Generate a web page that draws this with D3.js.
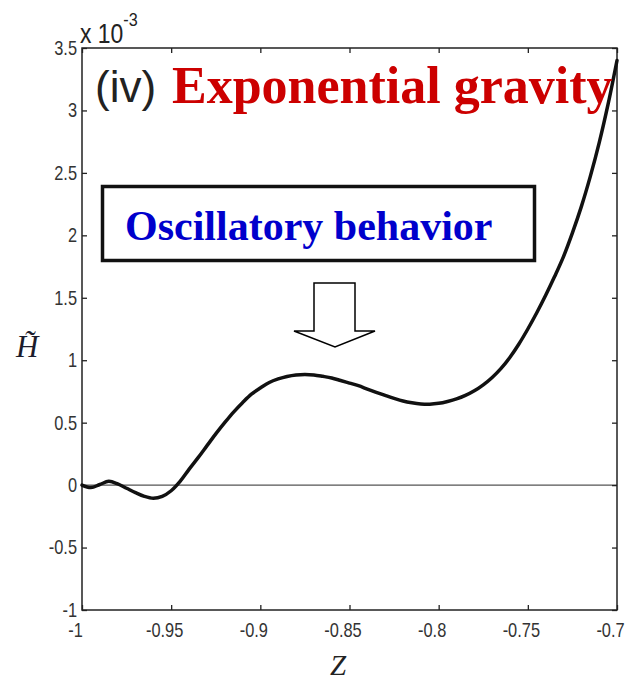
<!DOCTYPE html>
<html>
<head>
<meta charset="utf-8">
<script src="https://cdn.jsdelivr.net/npm/d3@7"></script>
<style>
  body { margin: 0; background: #fff; }
  svg { display: block; }
</style>
</head>
<body>
<svg id="chart" width="628" height="682"></svg>
<script>
// Redshift-like variable Z and the scaled dark-energy quantity H~ (units of 1e-3)
const zValues = [
  -1, -0.995, -0.99, -0.985, -0.98, -0.975, -0.97, -0.965, -0.96, -0.955,
  -0.95, -0.945, -0.94, -0.935, -0.93, -0.925, -0.92, -0.915, -0.91, -0.905,
  -0.9, -0.895, -0.89, -0.885, -0.88, -0.875, -0.87, -0.865, -0.86, -0.855,
  -0.85, -0.845, -0.84, -0.835, -0.83, -0.825, -0.82, -0.815, -0.81, -0.805,
  -0.8, -0.795, -0.79, -0.785, -0.78, -0.775, -0.77, -0.765, -0.76, -0.755,
  -0.75, -0.745, -0.74, -0.735, -0.73, -0.725, -0.72, -0.715, -0.71, -0.705, -0.7
];
const hValues = [
  0, -0.02, 0.005, 0.03, 0.01, -0.025, -0.06, -0.09, -0.105, -0.09,
  -0.045, 0.03, 0.126, 0.218, 0.314, 0.41, 0.5, 0.585, 0.66, 0.728,
  0.778, 0.822, 0.85, 0.87, 0.882, 0.886, 0.882, 0.871, 0.858, 0.838,
  0.817, 0.796, 0.769, 0.743, 0.718, 0.694, 0.673, 0.659, 0.65, 0.648,
  0.655, 0.67, 0.69, 0.718, 0.755, 0.803, 0.862, 0.935, 1.024, 1.13,
  1.25, 1.38, 1.52, 1.67, 1.83, 2.02, 2.23, 2.47, 2.74, 3.05, 3.4
];

const xTicks = [-1, -0.95, -0.9, -0.85, -0.8, -0.75, -0.7];
const xTickLabels = ["-1", "-0.95", "-0.9", "-0.85", "-0.8", "-0.75", "-0.7"];
const yTicks = [-1, -0.5, 0, 0.5, 1, 1.5, 2, 2.5, 3, 3.5];
const yTickLabels = ["-1", "-0.5", "0", "0.5", "1", "1.5", "2", "2.5", "3", "3.5"];

const W = 628, H = 682;
const margin = { left: 82, right: 11, top: 48, bottom: 72 };

const svg = d3.select("#chart");

const x = d3.scaleLinear().domain([-1, -0.7]).range([margin.left, W - margin.right]);
const y = d3.scaleLinear().domain([-1, 3.5]).range([H - margin.bottom, margin.top]);

const tickFont = "'Liberation Sans', Arial, Helvetica, sans-serif";
const serifFont = "'Liberation Serif', 'Times New Roman', serif";
const frameColor = "#222";

// Zero reference line
svg.append("line")
  .attr("x1", x(-1)).attr("x2", x(-0.7))
  .attr("y1", y(0)).attr("y2", y(0))
  .attr("stroke", "#555").attr("stroke-width", 1.2);

// Axes with inward ticks on all four sides
const bottomAxis = d3.axisBottom(x).tickValues(xTicks)
  .tickFormat((d, i) => xTickLabels[i])
  .tickSizeInner(-5).tickSizeOuter(0).tickPadding(13);
const topAxis = d3.axisTop(x).tickValues(xTicks).tickFormat("")
  .tickSizeInner(-5).tickSizeOuter(0);
const leftAxis = d3.axisLeft(y).tickValues(yTicks)
  .tickFormat((d, i) => yTickLabels[i])
  .tickSizeInner(-5).tickSizeOuter(0).tickPadding(5);
const rightAxis = d3.axisRight(y).tickValues(yTicks).tickFormat("")
  .tickSizeInner(-5).tickSizeOuter(0);

function styleAxis(g) {
  g.select(".domain").remove();
  g.selectAll(".tick line").attr("stroke", frameColor).attr("stroke-width", 1.3);
  g.selectAll(".tick text")
    .attr("fill", "#333")
    .style("font-family", tickFont)
    .style("font-size", "20px");
}

const gB = svg.append("g").attr("transform", `translate(0,${y(-1)})`).call(bottomAxis).call(styleAxis);
gB.selectAll(".tick text").attr("transform", "translate(-7,0) scale(0.82,1)");

svg.append("g").attr("transform", `translate(0,${y(3.5)})`).call(topAxis).call(styleAxis);

const gL = svg.append("g").attr("transform", `translate(${x(-1)},0)`).call(leftAxis).call(styleAxis);
gL.selectAll(".tick text").attr("x", 0).attr("transform", "translate(-5,0) scale(0.82,1)");

svg.append("g").attr("transform", `translate(${x(-0.7)},0)`).call(rightAxis).call(styleAxis);

// Plot frame
svg.append("rect")
  .attr("x", x(-1)).attr("y", y(3.5))
  .attr("width", x(-0.7) - x(-1)).attr("height", y(-1) - y(3.5))
  .attr("fill", "none").attr("stroke", frameColor).attr("stroke-width", 1.5);

// Exponent marker
const expo = svg.append("text")
  .attr("transform", "translate(80,43) scale(0.85,1)")
  .attr("fill", "#222")
  .style("font-family", tickFont)
  .style("font-size", "27px");
expo.append("tspan").text("x 10");
expo.append("tspan").attr("dy", -17).style("font-size", "19px").text("-3");

// Curve
const line = d3.line()
  .x((d, i) => x(zValues[i]))
  .y(d => y(d))
  .curve(d3.curveCatmullRom.alpha(0.5));

svg.append("path")
  .datum(hValues)
  .attr("d", line)
  .attr("fill", "none")
  .attr("stroke", "#111")
  .attr("stroke-width", 3.5)
  .attr("stroke-linejoin", "round")
  .attr("stroke-linecap", "round");

// Axis titles
svg.append("text")
  .attr("x", 338).attr("y", 675)
  .attr("text-anchor", "middle")
  .attr("fill", "#222")
  .style("font-family", serifFont)
  .style("font-style", "italic")
  .style("font-size", "29px")
  .text("Z");

// H with a combining tilde accent
svg.append("text")
  .attr("x", 16).attr("y", 357)
  .attr("fill", "#1c1c2c")
  .style("font-family", serifFont)
  .style("font-style", "italic")
  .style("font-size", "31px")
  .text("H\u0303");

// Panel label and title
svg.append("text")
  .attr("x", 95).attr("y", 102)
  .attr("fill", "#222")
  .style("font-family", tickFont)
  .style("font-size", "44px")
  .text("(iv)");

svg.append("text")
  .attr("x", 172).attr("y", 103)
  .attr("fill", "#cc0000")
  .style("font-family", serifFont)
  .style("font-weight", "bold")
  .style("font-size", "52px")
  .text("Exponential gravity");

// Annotation box
svg.append("rect")
  .attr("x", 102.5).attr("y", 186.5)
  .attr("width", 432).attr("height", 74)
  .attr("fill", "#fff")
  .attr("stroke", "#111").attr("stroke-width", 3.5);

svg.append("text")
  .attr("x", 125).attr("y", 240)
  .attr("fill", "#0000cc")
  .style("font-family", serifFont)
  .style("font-weight", "bold")
  .style("font-size", "42px")
  .text("Oscillatory behavior");

// Block arrow pointing at the oscillation
const arrowPts = [[314, 283], [355, 283], [355, 331], [375, 331], [335, 347], [294, 331], [314, 331]];
svg.append("polygon")
  .attr("points", arrowPts.map(p => p.join(",")).join(" "))
  .attr("fill", "#fff")
  .attr("stroke", "#000")
  .attr("stroke-width", 1.5)
  .attr("stroke-linejoin", "miter");
</script>
</body>
</html>
